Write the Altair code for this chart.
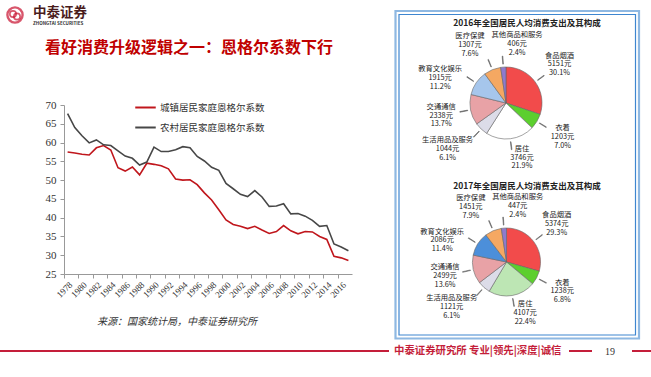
import altair as alt
import pandas as pd

# ---------------- data ----------------
years = list(range(1978, 2018))
urban = [57.5, 57.2, 56.9, 56.7, 58.6, 59.2, 58.0, 53.3, 52.4, 53.5,
         51.4, 54.5, 54.2, 53.8, 53.0, 50.3, 50.0, 50.1, 48.8, 46.6,
         44.7, 42.1, 39.4, 38.2, 37.7, 37.1, 37.7, 36.7, 35.8, 36.3,
         37.9, 36.5, 35.7, 36.3, 36.2, 35.0, 34.2, 29.7, 29.3, 28.6]
rural = [67.7, 64.0, 61.8, 59.9, 60.7, 59.4, 59.2, 57.8, 56.4, 55.8,
         54.0, 54.8, 58.8, 57.6, 57.6, 58.1, 58.9, 58.6, 56.3, 55.1,
         53.4, 52.6, 49.1, 47.7, 46.2, 45.6, 47.2, 45.5, 43.0, 43.1,
         43.7, 41.0, 41.1, 40.4, 39.3, 37.7, 37.9, 33.0, 32.2, 31.2]
series_names = ["城镇居民家庭恩格尔系数", "农村居民家庭恩格尔系数"]
x_tick_years = list(range(1978, 2017, 2))
y_ticks = list(range(25, 71, 5))

items = ["食品烟酒", "衣着", "居住", "生活用品及服务", "交通通信",
         "教育文化娱乐", "医疗保健", "其他商品和服务"]
yuan_2016 = [5151, 1203, 3746, 1044, 2338, 1915, 1307, 406]
pct_2016 = [30.1, 7.0, 21.9, 6.1, 13.7, 11.2, 7.6, 2.4]
yuan_2017 = [5374, 1238, 4107, 1121, 2499, 2086, 1451, 447]
pct_2017 = [29.3, 6.8, 22.4, 6.1, 13.6, 11.4, 7.9, 2.4]

# ---------------- styles ----------------
CJK = "Noto Sans CJK SC"
SERIF = "Liberation Serif"
RED = "#C00000"
colors_2016 = ["#F24B4B", "#5CCF2E", "#FFFFFF", "#DCDCE8", "#E8A2A6",
               "#A6C6EC", "#F5A862", "#8E7ACF"]
colors_2017 = ["#F24B4B", "#5CCF2E", "#BDE6B4", "#DCDCE8", "#E8A2A6",
               "#4C8FDA", "#F5A862", "#8E7ACF"]
LINE_H = 8.8
label_adjust = {"居住": (8, -11), "生活用品及服务": (-13, -2),
                "教育文化娱乐": (-11, 12), "医疗保健": (-11, 3),
                "其他商品和服务": (16, 7)}

dummy = pd.DataFrame({"a": [0]})


def txt(text, x, y, size, color="#333", weight="normal", align="left",
        font=CJK, style="normal", baseline="middle"):
    return alt.Chart(dummy).mark_text(
        text=text, fontSize=size, color=color, fontWeight=weight,
        align=align, font=font, fontStyle=style, baseline=baseline,
    ).encode(x=alt.value(x), y=alt.value(y))


def hline(x1, x2, y, color, width):
    return alt.Chart(dummy).mark_rule(color=color, strokeWidth=width).encode(
        x=alt.value(x1), x2=alt.value(x2), y=alt.value(y))


def box(x1, y1, x2, y2, color, width):
    return alt.Chart(dummy).mark_rect(
        fill="transparent", stroke=color, strokeWidth=width).encode(
        x=alt.value(x1), x2=alt.value(x2), y=alt.value(y1), y2=alt.value(y2))


def pie_layers(yuan, pct, cols, cx, cy, r, lab_r):
    total = sum(yuan)
    df = pd.DataFrame({"name": items, "yuan": yuan, "pct": pct,
                       "idx": list(range(len(items)))})
    df["label"] = [f"{n}\n{v}元\n{p:.1f}%" for n, v, p in zip(items, yuan, pct)]
    base = alt.Chart(df)
    arcs = base.mark_arc(outerRadius=r, stroke="#666", strokeWidth=0.6).encode(
        theta=alt.Theta("yuan:Q", stack=True),
        order=alt.Order("idx:Q"),
        color=alt.Color("name:N", scale=alt.Scale(domain=items, range=cols),
                        legend=None),
        x=alt.value(cx), y=alt.value(cy),
    )
    pos = base.transform_window(
        cum="sum(yuan)", sort=[alt.SortField("idx")], frame=[None, 0]
    ).transform_calculate(
        mid="datum.cum - datum.yuan / 2",
        a=f"datum.cum - datum.yuan / 2 - {total * 0.0012}",
        b=f"datum.cum - datum.yuan / 2 + {total * 0.0012}",
    )
    tscale = alt.Scale(domain=[0, total])
    leaders = pos.mark_arc(innerRadius=r + 3, outerRadius=r + 11,
                           fill="#666", stroke="#666", strokeWidth=0.6).encode(
        theta=alt.Theta("a:Q", stack=None, scale=tscale),
        theta2="b:Q",
        x=alt.value(cx), y=alt.value(cy),
    )
    out = [arcs, leaders]
    plain = [n for n in items if n not in label_adjust]
    groups = [(plain, 0, 0)] + [([n], dx, dy) for n, (dx, dy) in label_adjust.items()]
    for names_sel, dx, dy in groups:
        out.append(
            pos.transform_filter(
                alt.FieldOneOfPredicate(field="name", oneOf=names_sel)
            ).mark_text(radius=lab_r, dx=dx, dy=dy - LINE_H, fontSize=7.3,
                        lineHeight=LINE_H, lineBreak="\n", align="center",
                        baseline="middle", font=CJK, color="#222").encode(
                theta=alt.Theta("mid:Q", stack=None, scale=tscale),
                text="label:N",
                x=alt.value(cx), y=alt.value(cy),
            )
        )
    return out


# ---------------- line chart ----------------
df_line = pd.DataFrame({
    "year": years * 2,
    "value": urban + rural,
    "series": [series_names[0]] * len(years) + [series_names[1]] * len(years),
})

line = alt.Chart(df_line).mark_line(strokeWidth=1.6).encode(
    x=alt.X("year:Q",
            scale=alt.Scale(domain=[1977.5, 2017.5], range=[64, 352], nice=False, zero=False),
            axis=alt.Axis(values=x_tick_years, format="d", labelAngle=-45, offset=-103,
                          grid=False, title=None, tickOffset=-3.6, labelOffset=3.6,
                          labelFont=SERIF, labelFontSize=9, labelColor="#333",
                          labelOverlap=False, labelFlush=False, tickSize=4,
                          domainColor="#999", tickColor="#999", labelPadding=2)),
    y=alt.Y("value:Q",
            scale=alt.Scale(domain=[25, 70], range=[274, 105], nice=False, zero=False),
            axis=alt.Axis(values=y_ticks, offset=-64, grid=False, title=None,
                          labelFont=SERIF, labelFontSize=11, labelColor="#333",
                          labelOverlap=False, labelFlush=False, tickSize=4,
                          domainColor="#999", tickColor="#999", labelPadding=4)),
    color=alt.Color("series:N",
                    scale=alt.Scale(domain=series_names, range=["#C0161C", "#474747"]),
                    legend=alt.Legend(orient="none", legendX=134, legendY=96, title=None,
                                      symbolType="stroke", symbolStrokeWidth=2,
                                      symbolSize=420, labelFont=CJK, labelFontSize=9.5,
                                      labelColor="#333", rowPadding=4, labelOffset=3)),
)

# ---------------- decorations ----------------
layers = [
    box(395.5, 11, 639, 338.5, "#8EB8E2", 2.2),
    box(399, 14.5, 635.5, 335, "#3E86D0", 1.2),
    line,
]
layers += pie_layers(yuan_2016, pct_2016, colors_2016, 506, 103, 36, 66)
layers += pie_layers(yuan_2017, pct_2017, colors_2017, 506.5, 262, 34, 63)

logo = alt.Chart(dummy).mark_point(shape="circle", size=230, filled=False,
                                   stroke="#C8102E", strokeWidth=2.4).encode(
    x=alt.value(15), y=alt.value(15))
logo_in1 = alt.Chart(dummy).mark_point(shape="circle", size=40, filled=False,
                                       stroke="#C8102E", strokeWidth=1.6).encode(
    x=alt.value(13), y=alt.value(14))
logo_in2 = alt.Chart(dummy).mark_point(shape="circle", size=40, filled=False,
                                       stroke="#C8102E", strokeWidth=1.6).encode(
    x=alt.value(17), y=alt.value(16.5))

layers += [
    logo, logo_in1, logo_in2,
    txt("中泰证券", 33, 13, 13.5, color="#4a1c1c", weight="bold"),
    txt("ZHONGTAI SECURITIES", 33, 24, 4.5, color="#333", weight="bold"),
    txt("看好消费升级逻辑之一：恩格尔系数下行", 45, 48, 16, color=RED, weight="bold"),
    txt("2016年全国居民人均消费支出及其构成", 527, 23, 8.5, color="#222", weight="bold", align="center"),
    txt("2017年全国居民人均消费支出及其构成", 527, 186, 8.5, color="#222", weight="bold", align="center"),
    txt("来源：国家统计局，中泰证券研究所", 97, 322, 10, color="#333", style="italic"),
    hline(0, 389, 351, "#C41E3A", 2),
    hline(569, 592, 351, "#C41E3A", 2),
    hline(632, 651, 351, "#C41E3A", 2),
    txt("中泰证券研究所 专业|领先|深度|诚信", 394, 351, 10.4, color="#C41E3A", weight="bold"),
    txt("19", 610, 352, 10, color="#333", font=SERIF, align="center"),
]

chart = alt.layer(*layers).resolve_scale(
    theta="independent", color="independent"
).properties(
    width=651, height=377, padding=0,
    autosize=alt.AutoSizeParams(type="none"),
).configure_view(stroke=None)

chart.save("out.html", embed_options={"renderer": "svg", "actions": False})
